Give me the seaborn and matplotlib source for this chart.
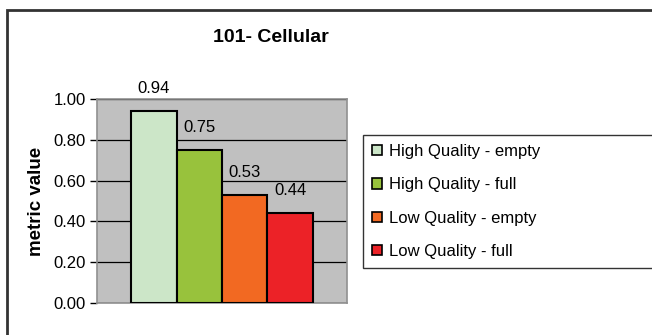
import matplotlib
matplotlib.use("Agg")
import matplotlib.pyplot as plt
import seaborn as sns
import pandas as pd
from matplotlib.patches import Rectangle

# data
series = ["High Quality - empty", "High Quality - full",
          "Low Quality - empty", "Low Quality - full"]
values = [0.94, 0.75, 0.53, 0.44]
colors = ["#CCE6C8", "#98C23C", "#F26922", "#EC2227"]
title = "101- Cellular"
ylabel = "metric value"

df = pd.DataFrame({"group": ["101- Cellular"] * len(series),
                   "series": series, "value": values})

sns.set_style("white")
plt.rcParams["font.family"] = ["Liberation Sans", "DejaVu Sans"]
plt.rcParams["text.color"] = "black"
plt.rcParams["axes.labelcolor"] = "black"
plt.rcParams["ytick.color"] = "black"

fig = plt.figure(figsize=(6.52, 3.35), dpi=100)
ax = fig.add_axes([0.149, 0.0955, 0.383, 0.609])

sns.barplot(data=df, x="group", y="value", hue="series", hue_order=series,
            palette=colors, saturation=1, width=0.728, edgecolor="black",
            linewidth=1.5, ax=ax, legend=False, zorder=3)

ax.set_facecolor("#C0C0C0")
ax.set_xlim(-0.5, 0.5)
ax.set_ylim(0, 1.0)
ticks = [0, 0.2, 0.4, 0.6, 0.8, 1.0]
ax.set_yticks(ticks)
ax.set_yticklabels([f"{v:.2f}" for v in ticks], fontsize=12, color="black")
ax.yaxis.grid(True, color="black", linewidth=0.9, zorder=0)
ax.set_axisbelow(True)
ax.set_xticks([])
ax.set_xlabel("")
ax.set_ylabel(ylabel, fontsize=13.5, fontweight="bold", labelpad=6, color="black")
ax.tick_params(axis="y", direction="out", length=5, width=1, color="black",
               left=True, pad=3)
for s in ax.spines.values():
    s.set_color("#909090")
    s.set_linewidth(1.2)

for bar, v in zip(ax.patches, values):
    ax.annotate(f"{v:.2f}", (bar.get_x() + bar.get_width() / 2, bar.get_height()),
                xytext=(0, 11), textcoords="offset points", color="black",
                ha="center", va="bottom", fontsize=12, annotation_clip=False)

fig.text(0.416, 0.888, title, ha="center", va="center", color="black",
         fontsize=14, fontweight="bold")

handles = [Rectangle((0, 0), 1, 1, facecolor=c, edgecolor="black", linewidth=1.2)
           for c in colors]
leg = fig.legend(handles, series, loc="center left",
                 bbox_to_anchor=(0.557, 0.197, 0.5, 0.403), mode="expand",
                 fontsize=12, frameon=True, fancybox=False, handlelength=0.6,
                 handleheight=0.6, handletextpad=0.4, labelspacing=1.1,
                 borderpad=0.55, borderaxespad=0, labelcolor="black")
leg.get_frame().set_edgecolor("black")
leg.get_frame().set_linewidth(1)

# outer chart border
fig.patches.append(Rectangle((0.011, -0.1), 1.2, 1.07, transform=fig.transFigure,
                             fill=False, edgecolor="#333333", linewidth=2))

fig.savefig("out.png", dpi=100)
plt.close(fig)
